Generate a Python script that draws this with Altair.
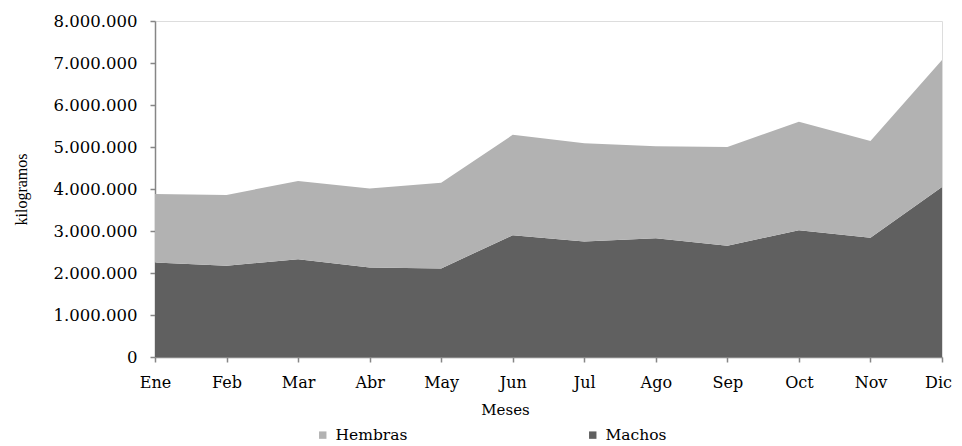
import altair as alt
import pandas as pd

meses = ["Ene", "Feb", "Mar", "Abr", "May", "Jun", "Jul", "Ago", "Sep", "Oct", "Nov", "Dic"]
machos = [2250000, 2170000, 2330000, 2130000, 2110000, 2900000, 2750000, 2830000, 2650000, 3020000, 2840000, 4050000]
hembras = [1630000, 1690000, 1860000, 1880000, 2040000, 2390000, 2340000, 2190000, 2350000, 2580000, 2300000, 3020000]
series = ["Hembras", "Machos"]
colores = ["#b2b2b2", "#606060"]

rows = []
for i, m in enumerate(meses):
    rows.append({"mes": m, "serie": "Machos", "valor": machos[i], "orden": 0})
    rows.append({"mes": m, "serie": "Hembras", "valor": hembras[i], "orden": 1})
df = pd.DataFrame(rows)

lbl_font = "DejaVu Serif"

chart = alt.Chart(df).mark_area(opacity=1).encode(
    x=alt.X("mes:N", sort=meses,
            scale=alt.Scale(type="point", padding=0),
            axis=alt.Axis(title="Meses", labelAngle=0, labelFont=lbl_font, labelFontSize=16,
                          labelColor="#000000", labelPadding=12,
                          labelOffset={"condition": {"test": "datum.label == 'Dic'", "value": -4}, "value": 0},
                          titleFont=lbl_font, titleFontSize=15, titleFontWeight="normal",
                          titleColor="#000000", titlePadding=12, titleX=350,
                          domainColor="#868686", domainWidth=1.5, tickColor="#868686",
                          tickWidth=1.5, tickSize=5, grid=False)),
    y=alt.Y("valor:Q", stack="zero",
            scale=alt.Scale(domain=[0, 8000000], nice=False),
            axis=alt.Axis(title="kilogramos", values=[0, 1000000, 2000000, 3000000, 4000000,
                                                     5000000, 6000000, 7000000, 8000000],
                          labelExpr="replace(format(datum.value, ','), regexp(',', 'g'), '.')",
                          labelFont=lbl_font, labelFontSize=16.5, labelColor="#000000",
                          labelPadding=13,
                          titleFont="Liberation Serif", titleFontSize=16, titleFontWeight="normal",
                          titleColor="#000000", titlePadding=24,
                          domainColor="#868686", domainWidth=1.5, tickColor="#868686",
                          tickWidth=1.5, tickSize=5, grid=False)),
    color=alt.Color("serie:N", scale=alt.Scale(domain=series, range=colores),
                    legend=alt.Legend(title=None, orient="none", legendX=160, legendY=406,
                                      direction="horizontal", columns=2, columnPadding=177,
                                      symbolType="square", symbolSize=55, symbolStrokeWidth=0,
                                      labelFont=lbl_font, labelFontSize=15.5, labelColor="#000000",
                                      labelOffset=5, padding=0)),
    order=alt.Order("orden:Q", sort="ascending"),
).properties(
    width=787, height=336,
    autosize=alt.AutoSizeParams(type="none"),
    padding={"left": 147, "top": 13, "right": 12, "bottom": 89},
).configure_view(stroke=None).configure(background="white")

chart.save("out.html", embed_options={"renderer": "svg", "actions": False})
